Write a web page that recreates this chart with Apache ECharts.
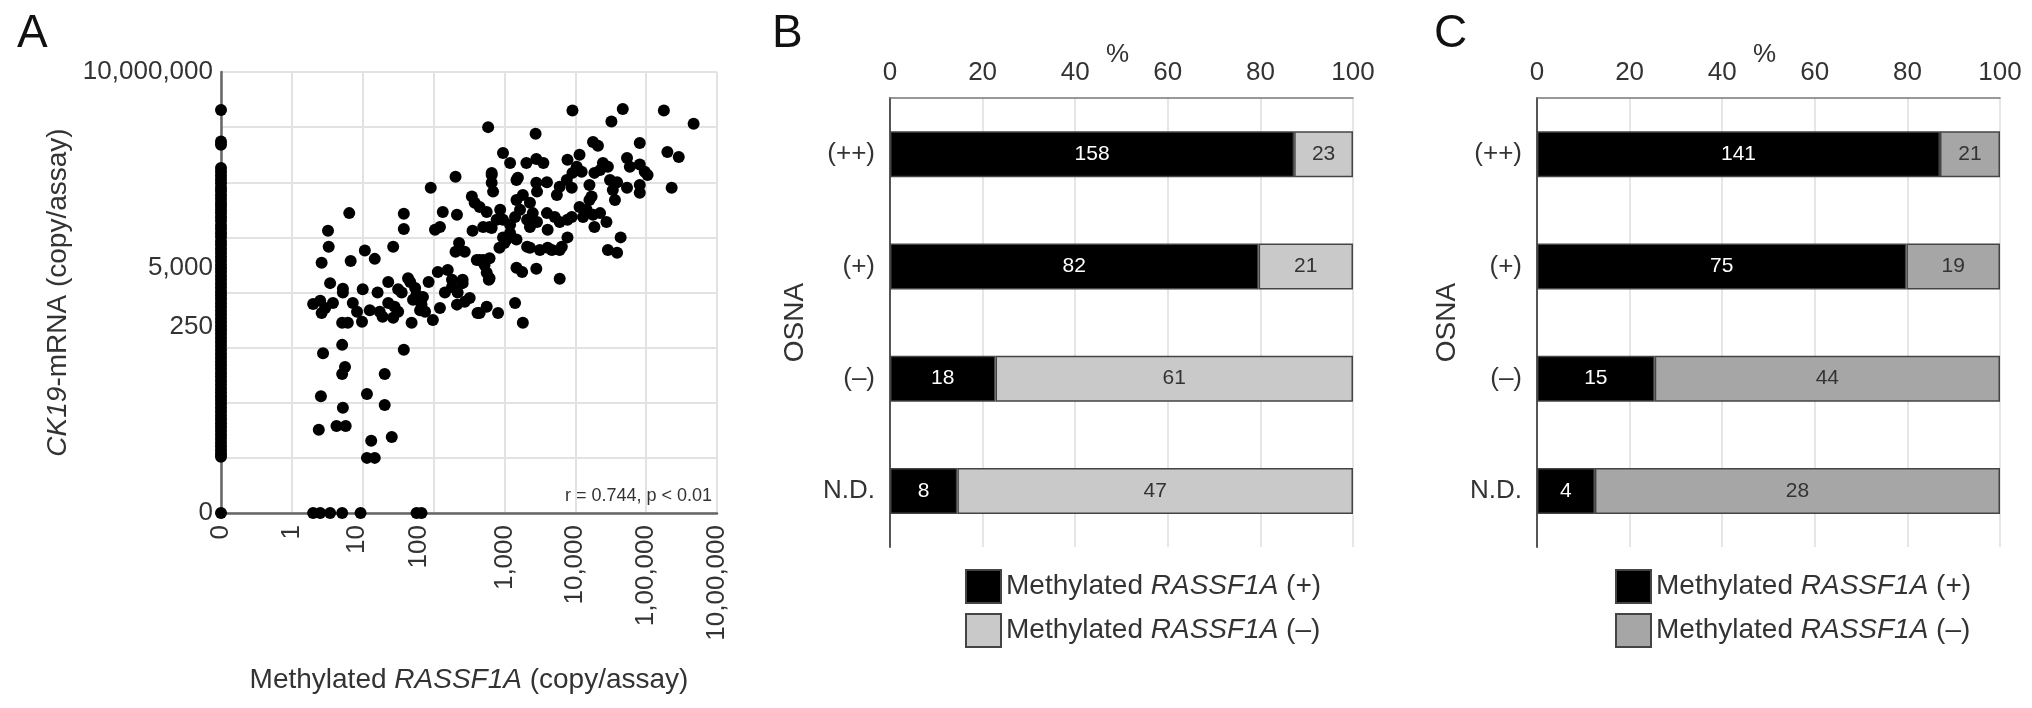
<!DOCTYPE html>
<html>
<head>
<meta charset="utf-8">
<script src="https://cdn.jsdelivr.net/npm/echarts@6/dist/echarts.min.js"></script>
<style>
html,body{margin:0;padding:0;background:#fff;}
#chart{width:2032px;height:708px;}
</style>
</head>
<body>
<div id="chart"></div>
<script>
// ---------- Panel A data (axis units: 0 = zero copies, k = 10^(k-1) copies) ----------
const xTickLabels = ['0','1','10','100','1,000','10,000','1,00,000','10,00,000'];
const xTickPos = [0, 1, 1.92, 2.79, 4, 5, 6, 7];
const yTickLabels = ['0','250','5,000','10,000,000'];
const yTickPos = [0, 3.38, 4.45, 8];

// y values of samples with zero methylated RASSF1A (x = 0)
const zeroColumnY = [7.31,6.74,6.68,6.26,6.19,6.12,6.05,5.98,5.9,5.84,5.77,5.7,5.63,5.57,5.5,5.44,5.37,5.3,5.22,5.15,5.08,
  5.01,4.93,4.86,4.79,4.72,4.65,4.58,4.51,4.44,4.37,4.3,4.23,4.16,4.09,4.02,3.95,3.88,3.81,3.74,3.67,3.6,3.53,3.46,3.39,3.32,
  3.25,3.18,3.11,3.04,2.96,2.89,2.82,2.75,2.68,2.61,2.54,2.47,2.4,2.33,2.26,2.19,2.12,2.05,1.98,1.91,1.84,1.77,1.7,1.63,1.56,
  1.49,1.42,1.35,1.28,1.21,1.14,1.07,1.02,0];
// x values of samples with zero CK19-mRNA (y = 0)
const zeroRowX = [1.30,1.40,1.54,1.71,1.97,2.76,2.83];
// remaining samples [x, y]
const cloudPoints = [
 [3.77,7.0],[4.44,6.88],[3.98,6.53],[4.08,6.35],[4.31,6.35],[4.45,6.42],[4.55,6.35],[3.31,6.10],[2.96,5.9],[3.82,6.13],
 [3.82,5.99],[3.84,5.83],[4.17,6.04],[4.45,5.99],[3.54,5.74],[3.58,5.63],[3.13,5.46],[3.33,5.41],[1.81,5.44],[2.58,5.43],
 [2.58,5.15],[1.51,5.12],[3.02,5.14],[3.09,5.19],[3.55,5.12],[3.75,5.46],[3.79,5.19],[3.89,5.32],[1.52,4.83],[2.03,4.76],
 [2.17,4.61],[2.43,4.83],[1.42,4.54],[1.83,4.57],[3.36,4.90],[3.31,4.74],[3.44,4.74],[3.61,4.59],[3.70,4.59],[3.79,4.62],
 [3.75,4.36],[3.79,4.26],[4.17,4.45],[4.25,4.37],[4.45,4.43],[4.36,4.81],[4.50,4.77],[4.61,4.81],[3.93,4.81],[4.0,4.90],
 [3.98,5.0],[4.08,5.08],[4.17,4.96],[1.54,4.17],[1.72,4.07],[2.36,4.19],[2.64,4.26],[2.93,4.19],[3.06,4.37],[3.2,4.41],
 [3.26,4.23],[3.41,4.23],[2.0,4.06],[2.5,4.06],[2.74,4.08],
 [1.72,4.0],[1.30,3.79],[1.40,3.85],[1.47,3.72],[1.58,3.81],[1.42,3.63],[1.71,3.45],[1.79,3.45],[1.86,3.81],[1.92,3.65],
 [1.99,3.47],[2.1,3.68],[2.24,3.65],[2.21,4.0],[2.28,3.56],[2.36,3.81],[2.45,3.74],[2.43,3.54],[2.5,3.65],[2.55,4.0],
 [2.67,4.19],[2.69,3.45],[2.71,3.87],[2.76,3.96],[2.85,3.92],[2.83,3.78],[2.88,3.65],[2.81,3.68],[2.99,3.50],[3.09,3.72],
 [3.16,4.0],[3.26,4.1],[3.34,4.0],[3.41,4.17],[3.33,3.78],[3.44,3.83],[3.51,3.9],[3.62,3.63],[3.75,3.74],[3.91,3.63],
 [3.78,4.23],[4.15,3.81],[4.26,3.45],[2.58,2.96],[1.71,3.05],[1.44,2.9],[1.75,2.65],[1.71,2.52],[2.31,2.52],[1.41,2.12],
 [2.06,2.16],[2.31,1.96],[1.72,1.91],[1.38,1.51],[1.63,1.58],[1.76,1.58],[2.41,1.38],[2.12,1.31],[2.06,1.0],[2.17,1.0],
 [4.96,7.30],[5.67,7.33],[6.25,7.30],[6.67,7.06],[5.51,7.10],[5.91,6.71],[5.25,6.73],[5.32,6.66],[6.30,6.55],[6.46,6.46],
 [4.89,6.41],[5.06,6.50],[5.02,6.28],[4.96,6.17],[5.09,6.19],[5.39,6.35],[5.46,6.28],[5.73,6.44],[5.77,6.28],[5.91,6.32],
 [5.98,6.19],[6.02,6.13],[5.27,6.17],[5.35,6.22],[5.2,5.95],[5.23,5.74],[5.49,6.04],[5.59,6.0],[5.53,5.86],[5.56,5.68],
 [5.73,5.9],[5.91,5.95],[5.91,5.81],[6.36,5.9],[3.82,6.17],[4.19,6.08],[4.6,6.0],[4.46,5.83],[4.78,5.92],[4.88,6.04],
 [4.74,5.77],[4.95,5.9],[4.17,5.68],[4.26,5.77],[4.36,5.63],[4.22,5.5],[4.40,5.44],[4.32,5.32],[4.46,5.28],[4.15,5.37],
 [4.36,5.19],[3.65,5.55],[3.94,5.5],[3.82,5.17],[3.98,5.32],[4.08,5.23],[3.7,5.19],[4.6,5.44],[4.71,5.37],[4.78,5.28],
 [4.89,5.32],[4.95,5.37],[4.61,5.14],[5.06,5.55],[5.16,5.5],[5.2,5.68],[5.11,5.37],[5.25,5.41],[5.27,5.19],[5.35,5.44],
 [5.44,5.28],[4.89,5.0],[5.64,5.0],[5.46,4.77],[5.59,4.72],[4.03,4.96],[4.32,4.83],[4.67,4.77],[4.78,4.77],[4.81,4.83],
 [3.65,4.59],[3.72,4.5],[4.78,4.25],[3.65,3.63]
];

// ---------- Panels B and C data ----------
const osnaCategories = ['(++)','(+)','(–)','N.D.'];
const bPositive = [158, 82, 18, 8];
const bNegative = [23, 21, 61, 47];
const cPositive = [141, 75, 15, 4];
const cNegative = [21, 19, 44, 28];

// ---------- build ----------
const FONT = '"Liberation Sans", Arial, Helvetica, sans-serif';
const TXT = '#333';
const scatterData = []
  .concat(zeroColumnY.map(v => [0, v]))
  .concat(zeroRowX.map(u => [u, 0]))
  .concat(cloudPoints);

function pct(a, b) { return a.map((v, i) => +(100 * v / (v + b[i])).toFixed(3)); }
function labelAt(positions, labels) {
  return function (v) {
    for (let i = 0; i < positions.length; i++) {
      if (Math.abs(v - positions[i]) < 0.004) return labels[i];
    }
    return '';
  };
}

function barXAxis(gridIndex) {
  return {
    gridIndex, type: 'value', position: 'top', min: 0, max: 100, interval: 20,
    axisLine: { show: true, lineStyle: { color: '#777', width: 1.5 } },
    axisTick: { show: false },
    axisLabel: { fontSize: 26, color: TXT, margin: 12, fontFamily: FONT },
    splitLine: { show: true, lineStyle: { color: '#dedede', width: 1.5 } },
    name: '%', nameLocation: 'middle', nameGap: 30, nameMoveOverlap: false,
    nameTextStyle: { fontSize: 26, color: TXT, fontFamily: FONT, padding: [0, 8, 0, 0] }
  };
}
function barYAxis(gridIndex, gap) {
  return {
    gridIndex, type: 'category', data: osnaCategories, inverse: true,
    axisLine: { show: true, lineStyle: { color: '#555', width: 2 } },
    axisTick: { show: false },
    axisLabel: { fontSize: 26, color: TXT, margin: 15, fontFamily: FONT },
    splitLine: { show: false },
    name: 'OSNA', nameLocation: 'middle', nameGap: gap, nameRotate: 90,
    nameTextStyle: { fontSize: 28, color: TXT, fontFamily: FONT }
  };
}
function barSeries(name, counts, other, color, axisIdx, stack, labelColor) {
  const vals = pct(counts, other);
  return {
    name, type: 'bar', stack, xAxisIndex: axisIdx, yAxisIndex: axisIdx,
    data: vals, barWidth: 46,
    itemStyle: { color, borderColor: '#444', borderWidth: 1.5 },
    label: { show: true, position: 'inside', color: labelColor, fontSize: 21, fontFamily: FONT,
      formatter: p => String(counts[p.dataIndex]) },
    emphasis: { disabled: true }
  };
}
const legendFmt = n => n.endsWith('pos') ? 'Methylated {i|RASSF1A} (+)' : 'Methylated {i|RASSF1A} (–)';
function legendAt(left, names) {
  return {
    orient: 'vertical', left, top: 564, itemWidth: 35, itemHeight: 33, itemGap: 9,
    selectedMode: false, data: names, formatter: legendFmt, icon: 'rect',
    textStyle: { fontSize: 28, color: TXT, fontFamily: FONT,
      rich: { i: { fontStyle: 'italic', fontSize: 28, color: TXT, fontFamily: FONT } } }
  };
}

const option = {
  backgroundColor: '#fff',
  animation: false,
  title: [
    { text: 'A', left: 12, top: 6, textStyle: { fontSize: 46, fontWeight: 'normal', color: '#111', fontFamily: FONT } },
    { text: 'B', left: 767, top: 6, textStyle: { fontSize: 46, fontWeight: 'normal', color: '#111', fontFamily: FONT } },
    { text: 'C', left: 1429, top: 6, textStyle: { fontSize: 46, fontWeight: 'normal', color: '#111', fontFamily: FONT } }
  ],
  grid: [
    { left: 221, top: 72, width: 496, height: 441 },
    { left: 890, top: 98, width: 463, height: 449 },
    { left: 1537, top: 98, width: 463, height: 449 }
  ],
  xAxis: [
    { gridIndex: 0, type: 'value', min: 0, max: 7, interval: 1, position: 'bottom',
      axisLine: { show: true, onZero: false, lineStyle: { color: '#666', width: 2.5 } },
      axisTick: { show: false }, axisLabel: { show: false },
      splitLine: { show: true, lineStyle: { color: '#e2e2e2', width: 2 } },
      name: '{n|Methylated }{i|RASSF1A}{n| (copy/assay)}', nameLocation: 'middle', nameGap: 153,
      nameTextStyle: { fontSize: 28, color: TXT, fontFamily: FONT,
        rich: { n: { fontSize: 28, color: TXT, fontFamily: FONT }, i: { fontSize: 28, color: TXT, fontStyle: 'italic', fontFamily: FONT } } } },
    { gridIndex: 0, type: 'value', min: 0, max: 7, interval: 0.01, position: 'bottom',
      axisLine: { show: false }, axisTick: { show: false }, splitLine: { show: false },
      axisLabel: { show: true, interval: 0, rotate: 90, margin: 12, fontSize: 26, color: TXT, fontFamily: FONT,
        formatter: labelAt(xTickPos, xTickLabels) } },
    barXAxis(1),
    barXAxis(2)
  ],
  yAxis: [
    { gridIndex: 0, type: 'value', min: 0, max: 8, interval: 1,
      axisLine: { show: true, onZero: false, lineStyle: { color: '#666', width: 2.5 } },
      axisTick: { show: false }, axisLabel: { show: false },
      splitLine: { show: true, lineStyle: { color: '#e2e2e2', width: 2 } },
      name: '{i|CK19}{n|-mRNA (copy/assay)}', nameLocation: 'middle', nameGap: 149, nameRotate: 90,
      nameTextStyle: { fontSize: 28, color: TXT, fontFamily: FONT,
        rich: { n: { fontSize: 28, color: TXT, fontFamily: FONT }, i: { fontSize: 28, color: TXT, fontStyle: 'italic', fontFamily: FONT } } } },
    { gridIndex: 0, type: 'value', min: 0, max: 8, interval: 0.01, position: 'left',
      axisLine: { show: false }, axisTick: { show: false }, splitLine: { show: false },
      axisLabel: { show: true, interval: 0, margin: 8, fontSize: 26, color: TXT, fontFamily: FONT,
        formatter: labelAt(yTickPos, yTickLabels) } },
    barYAxis(1, 81),
    barYAxis(2, 76)
  ],
  legend: [
    legendAt(960, ['B_pos', 'B_neg']),
    legendAt(1610, ['C_pos', 'C_neg'])
  ],
  graphic: [
    { type: 'text', x: 712, y: 496, silent: true,
      style: { text: 'r = 0.744, p < 0.01', fontSize: 18, fill: TXT, align: 'right', verticalAlign: 'middle', fontFamily: FONT } }
  ],
  series: [
    { type: 'scatter', xAxisIndex: 0, yAxisIndex: 0, data: scatterData, symbolSize: 12,
      itemStyle: { color: '#000', opacity: 1 }, emphasis: { disabled: true } },
    barSeries('B_pos', bPositive, bNegative, '#000', 2, 'b', '#fff'),
    barSeries('B_neg', bNegative, bPositive, '#c9c9c9', 2, 'b', TXT),
    barSeries('C_pos', cPositive, cNegative, '#000', 3, 'c', '#fff'),
    barSeries('C_neg', cNegative, cPositive, '#a6a6a6', 3, 'c', TXT)
  ]
};

const chart = echarts.init(document.getElementById('chart'), null, { renderer: 'canvas' });
chart.setOption(option);
</script>
</body>
</html>
